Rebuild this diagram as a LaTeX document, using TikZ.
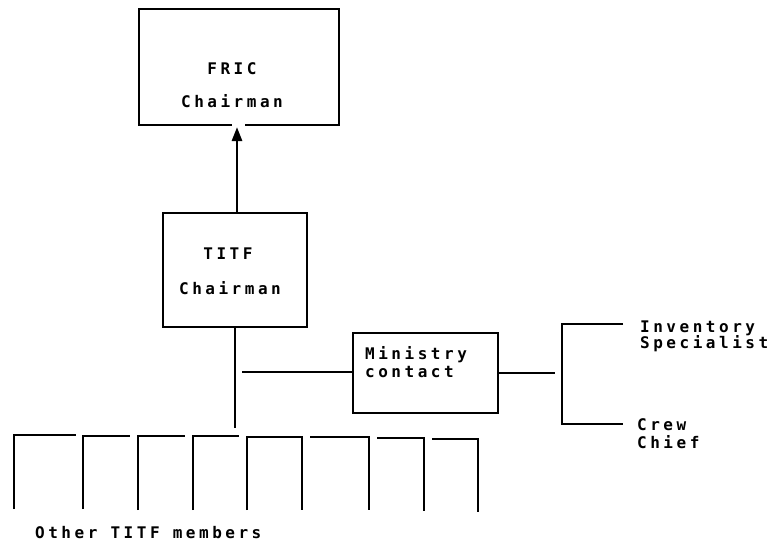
\documentclass[tikz,border=0pt]{standalone}
\usepackage{fontspec}
\newfontfamily\dotfont[LetterSpace=22]{DejaVu Sans Mono}
\usetikzlibrary{arrows.meta}
\tikzset{
  lbl/.style={font=\dotfont\bfseries\fontsize{16}{16}\selectfont, inner sep=0pt},
  box/.style={draw, line width=2.8pt, inner sep=0pt},
  thickline/.style={line width=2.8pt},
  thinline/.style={line width=1.6pt},
  member/.style={line width=2.6pt, line join=miter}
}
\begin{document}
\begin{tikzpicture}[x=1pt,y=-1pt]
\useasboundingbox (0,0) rectangle (776,544);
% boxes
\node[box, minimum width=200pt, minimum height=116pt] (fric) at (239,67) {};
\node[box, minimum width=144pt, minimum height=114pt] (titf) at (235,270) {};
\node[box, minimum width=145pt, minimum height=80pt] (min) at (425.5,373) {};
% gap in the FRIC box's lower side, where the arrow meets it
\coordinate (gapl) at (232,125);
\coordinate (gapr) at (245,125);
\draw[white, line width=4pt] (gapl) -- (gapr);
% texts
\node[lbl] (t1) at (232,69) {FRIC};
\node[lbl] (t2) at (232,101) {Chairman};
\node[lbl] (t3) at (228,254) {TITF};
\node[lbl] (t4) at (230,288) {Chairman};
\node[lbl, anchor=west] (t5) at (365,355) {Ministry};
\node[lbl, anchor=west] (t6) at (365,372) {contact};
\node[lbl, anchor=west] (t7) at (640,328) {Inventory};
\node[lbl, anchor=west] (t8) at (640,344) {Specialist};
\node[lbl, anchor=west] (t9) at (637,425) {Crew};
\node[lbl, anchor=west] (t10) at (637,442) {Chief};
\node[lbl, anchor=west] (t11) at (35,533) {Other TITF members};
% connectors
\coordinate (arrs) at (237,213);
\coordinate (arre) at (237,127);
\draw[thickline, -{Triangle[length=14pt,width=10pt]}] (arrs) -- (arre);
\coordinate (down) at (235,428);
\draw[thickline] (titf.south) -- (down);
\coordinate (mleft) at (242,372);
\draw[thinline] (mleft) -- (mleft -| min.west);
\coordinate (mright) at (555,373);
\draw[thinline] (min.east |- mright) -- (mright);
\coordinate (b1) at (623,324);
\coordinate (b2) at (623,424);
\draw[line width=2pt] (b1) -- (562,324) -- (562,424) -- (b2);
% members
\draw[member] (14,509) -- (14,435) -- (76,435);
\draw[member] (83,509) -- (83,436) -- (130,436);
\draw[member] (138,510) -- (138,436) -- (185,436);
\draw[member] (193,510) -- (193,436) -- (239,436);
\draw[member] (247,510) -- (247,437) -- (302,437) -- (302,510);
\draw[member] (310,437) -- (369,437) -- (369,510);
\draw[member] (377,438) -- (424,438) -- (424,511);
\draw[member] (432,439) -- (478,439) -- (478,512);
\end{tikzpicture}
\end{document}
